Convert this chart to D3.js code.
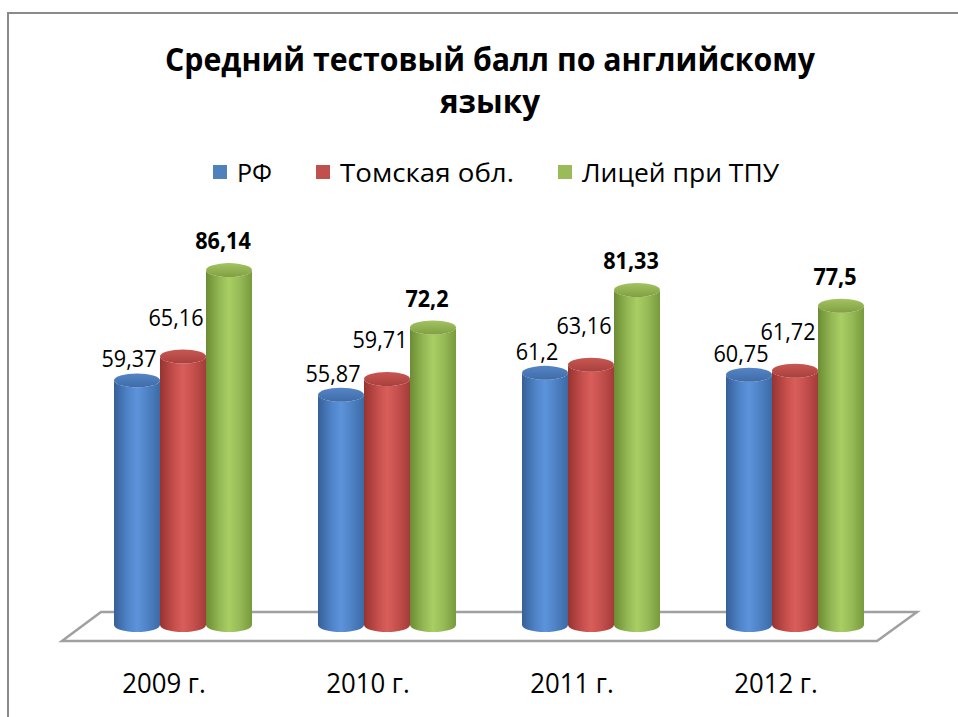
<!DOCTYPE html>
<html><head><meta charset="utf-8">
<script src="https://cdn.jsdelivr.net/npm/d3@7"></script>
<style>html,body{margin:0;padding:0;background:#fff;}svg{display:block;}</style>
</head><body>
<script>
const titleLines = ["Средний тестовый балл по английскому", "языку"];
const years = ["2009 г.", "2010 г.", "2011 г.", "2012 г."];
const seriesNames = ["РФ", "Томская обл.", "Лицей при ТПУ"];
const rfValues = [59.37, 55.87, 61.2, 60.75];
const tomskValues = [65.16, 59.71, 63.16, 61.72];
const liceyValues = [86.14, 72.2, 81.33, 77.5];
const valueLabels = [
  ["59,37", "55,87", "61,2", "60,75"],
  ["65,16", "59,71", "63,16", "61,72"],
  ["86,14", "72,2", "81,33", "77,5"]
];
const seriesValues = [rfValues, tomskValues, liceyValues];

const W = 958, H = 717;
const colors = ["#4f81bd", "#c0504d", "#9bbb59"];
const grads = [
  ["#365f98", "#4f84c9", "#5c93da", "#4f83c6", "#3c6aa6"],
  ["#963331", "#c54e4b", "#d85e5b", "#c6504d", "#a33c39"],
  ["#6c8c33", "#94b955", "#a9ce63", "#97bc58", "#789a3b"]
];
const caps = [["#3f6ca8", "#5585c6"], ["#a8403d", "#c95753"], ["#819f42", "#a3c462"]];

const svg = d3.select("body").append("svg").attr("width", W).attr("height", H);
const defs = svg.append("defs");
grads.forEach((g, i) => {
  const lg = defs.append("linearGradient").attr("id", "body" + i).attr("x1", "0").attr("x2", "1").attr("y1", "0").attr("y2", "0");
  [0, 0.3, 0.5, 0.72, 1].forEach((o, j) => lg.append("stop").attr("offset", o).attr("stop-color", g[j]));
  const cg = defs.append("linearGradient").attr("id", "cap" + i).attr("x1", "0").attr("x2", "0").attr("y1", "0").attr("y2", "1");
  cg.append("stop").attr("offset", 0).attr("stop-color", caps[i][1]);
  cg.append("stop").attr("offset", 1).attr("stop-color", caps[i][0]);
});

function narrow(sel, f) {
  sel.each(function () {
    const len = this.getComputedTextLength();
    d3.select(this).attr("textLength", len * f).attr("lengthAdjust", "spacingAndGlyphs");
  });
}

// chart border
svg.append("rect").attr("x", 8).attr("y", 13).attr("width", 1000).attr("height", 800)
  .attr("fill", "#fff").attr("stroke", "#8a8a8a").attr("stroke-width", 2);

// title
const font = "'Open Sans', 'DejaVu Sans', sans-serif";
svg.append("text").attr("x", 490).attr("y", 71).attr("text-anchor", "middle")
  .attr("font-family", font).attr("font-weight", "bold").attr("font-size", 33)
  .attr("textLength", 650).attr("lengthAdjust", "spacingAndGlyphs")
  .text(titleLines[0]);
svg.append("text").attr("x", 490).attr("y", 113).attr("text-anchor", "middle")
  .attr("font-family", font).attr("font-weight", "bold").attr("font-size", 33)
  .attr("textLength", 100).attr("lengthAdjust", "spacingAndGlyphs")
  .text(titleLines[1]);

// legend
const legendX = [213, 316, 558];
const legendW = [35, 174, 197];
const lg = svg.append("g");
seriesNames.forEach((n, i) => {
  lg.append("rect").attr("x", legendX[i]).attr("y", 165).attr("width", 14).attr("height", 14).attr("fill", colors[i]);
  lg.append("text").attr("x", legendX[i] + 24).attr("y", 182)
    .attr("font-family", font).attr("font-size", 26)
    .attr("textLength", legendW[i]).attr("lengthAdjust", "spacingAndGlyphs")
    .text(n);
});

// scales
const x0 = d3.scaleBand().domain(years).range([81, 897]).paddingInner(0.3235).paddingOuter(0.16175);
const x1 = d3.scaleBand().domain(d3.range(3)).range([0, x0.bandwidth()]).padding(0);
const y = d3.scaleLinear().domain([0, 100]).range([625, 213]);

// floor
const floorBack = 612, floorFront = 641;
svg.append("polygon")
  .attr("points", [[101, floorBack], [917, floorBack], [877, floorFront], [62, floorFront]].map(p => p.join(",")).join(" "))
  .attr("fill", "#fff").attr("stroke", "#a0a0a0").attr("stroke-width", 2.5);

// cylinders
const ry = 7;
const bars = svg.append("g");
years.forEach((yr, gi) => {
  seriesValues.forEach((vals, si) => {
    const v = vals[gi];
    const xl = x0(yr) + x1(si);
    const w = x1.bandwidth();
    const rx = w / 2;
    const cx = xl + rx;
    const yb = y(0), yt = y(v);
    bars.append("path")
      .attr("d", `M${xl},${yt} L${xl},${yb} A${rx},${ry} 0 0 0 ${xl + w},${yb} L${xl + w},${yt} A${rx},${ry} 0 0 1 ${xl},${yt} Z`)
      .attr("fill", `url(#body${si})`);
    bars.append("ellipse").attr("cx", cx).attr("cy", yt).attr("rx", rx).attr("ry", ry)
      .attr("fill", `url(#cap${si})`);
  });
});

// value labels
const labelDx = [-8, -7, -6];
const labelDy = [-13, -31, -21];
years.forEach((yr, gi) => {
  seriesValues.forEach((vals, si) => {
    const cx = x0(yr) + x1(si) + x1.bandwidth() / 2;
    const t = svg.append("text").attr("x", cx + labelDx[si]).attr("y", y(vals[gi]) + labelDy[si])
      .attr("text-anchor", "middle").attr("font-family", font).attr("font-size", 24)
      .attr("font-weight", si === 2 ? "bold" : "normal")
      .attr("fill", "#000")
      .text(valueLabels[si][gi]);
    narrow(t, 0.9);
  });
});

// category labels
years.forEach(yr => {
  const t = svg.append("text").attr("x", x0(yr) + x0.bandwidth() / 2 - 19).attr("y", 693)
    .attr("text-anchor", "middle").attr("font-family", font).attr("font-size", 28)
    .text(yr);
  narrow(t, 0.92);
});
</script>
</body></html>
